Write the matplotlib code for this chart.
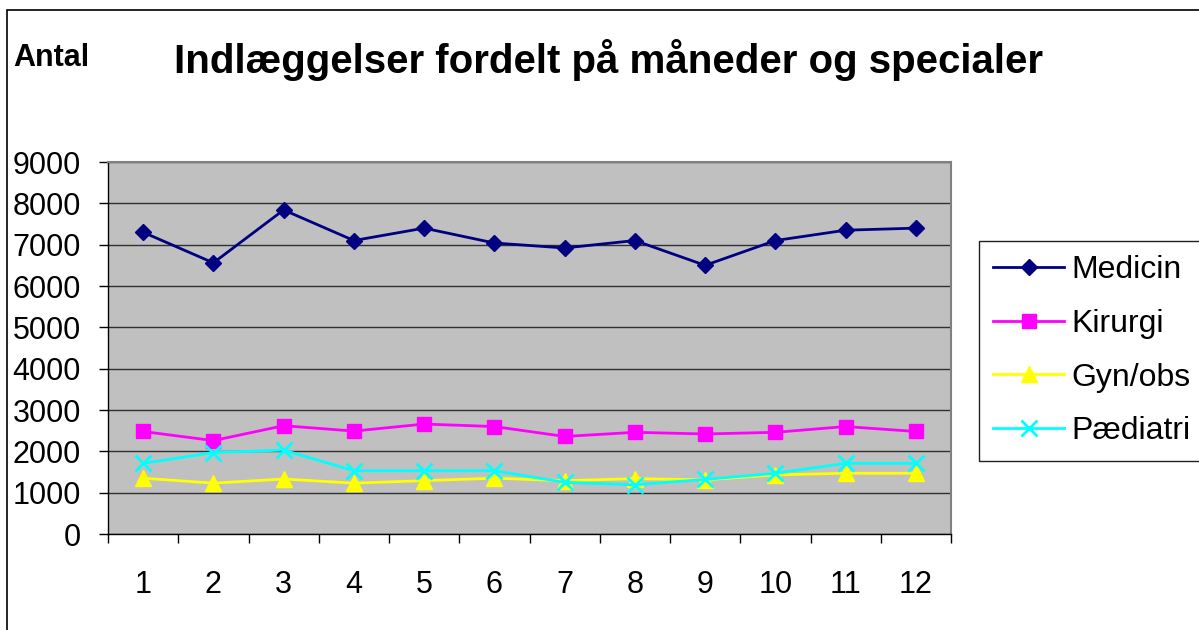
import matplotlib
matplotlib.use("Agg")
import matplotlib.pyplot as plt
from matplotlib.patches import Rectangle

months = [1, 2, 3, 4, 5, 6, 7, 8, 9, 10, 11, 12]
medicin = [7300, 6560, 7840, 7100, 7400, 7040, 6920, 7100, 6500, 7100, 7350, 7400]
kirurgi = [2480, 2260, 2620, 2490, 2660, 2600, 2360, 2460, 2420, 2460, 2600, 2480]
gyn_obs = [1350, 1230, 1330, 1230, 1290, 1350, 1290, 1340, 1310, 1430, 1470, 1470]
paediatri = [1710, 1970, 2030, 1530, 1530, 1530, 1250, 1190, 1320, 1470, 1710, 1710]
yticks = [0, 1000, 2000, 3000, 4000, 5000, 6000, 7000, 8000, 9000]

plt.rcParams['font.family'] = ['Liberation Sans', 'DejaVu Sans']

W, H = 1199, 630
fig = plt.figure(figsize=(W / 100, H / 100), dpi=100)
fig.patch.set_facecolor('white')

# outer chart border
fig.patches.append(Rectangle((7 / W, -0.1), 1.2, 1 - 10 / H + 0.1, transform=fig.transFigure,
                             fill=False, edgecolor='black', linewidth=1.2))

ax = fig.add_axes([108 / W, 1 - 534 / H, (951 - 108) / W, (534 - 162) / H])
ax.set_facecolor('#C0C0C0')

series = [
    ('Medicin', medicin, '#000080', 'D', 8.5),
    ('Kirurgi', kirurgi, '#FF00FF', 's', 10),
    ('Gyn/obs', gyn_obs, '#FFFF00', '^', 11),
    ('Pædiatri', paediatri, '#00FFFF', 'x', 11),
]
for name, vals, col, mk, ms in series:
    if mk == 'x':
        ax.plot(months, vals, color=col, lw=2, marker=mk, markersize=ms,
                markeredgewidth=2.0, label=name, zorder=3)
    else:
        ax.plot(months, vals, color=col, lw=2, marker=mk, markersize=ms,
                markeredgecolor=col, markerfacecolor=col, label=name, zorder=3)

ax.set_xlim(0.5, 12.5)
ax.set_ylim(0, 9000)
ax.set_yticks(yticks)
ax.set_yticklabels([str(v) for v in yticks], fontsize=22)
ax.set_xticks(months)
ax.set_xticklabels([str(m) for m in months], fontsize=22)
ax.set_xticks([m + 0.5 for m in [0] + months], minor=True)
ax.tick_params(axis='x', which='major', length=0, pad=26)
ax.tick_params(axis='x', which='minor', length=6.5, width=1, color='black', direction='out')
ax.tick_params(axis='y', length=6.5, width=1, color='black', direction='out', pad=13)

ax.yaxis.grid(True, color='#303030', linewidth=1)
ax.set_axisbelow(True)
for s in ['top', 'right']:
    ax.spines[s].set_color('#808080')
    ax.spines[s].set_linewidth(1.5)
for s in ['left', 'bottom']:
    ax.spines[s].set_color('black')
    ax.spines[s].set_linewidth(1)

fig.text(609 / W, 1 - 73 / H, 'Indlæggelser fordelt på måneder og specialer',
         ha='center', va='baseline', fontsize=29, fontweight='bold')
fig.text(13 / W, 1 - 66 / H, 'Antal', ha='left', va='baseline', fontsize=22, fontweight='bold')

leg = fig.legend(loc='upper left', bbox_to_anchor=(979 / W, 1 - 241 / H), fontsize=23,
                 frameon=True, fancybox=False, edgecolor='#202020', framealpha=1,
                 handlelength=2.2, handletextpad=0.25, labelspacing=0.74,
                 borderpad=0.45, borderaxespad=0, markerscale=1.0)
leg.get_frame().set_linewidth(1)

fig.savefig('out.png', dpi=100, facecolor='white')
